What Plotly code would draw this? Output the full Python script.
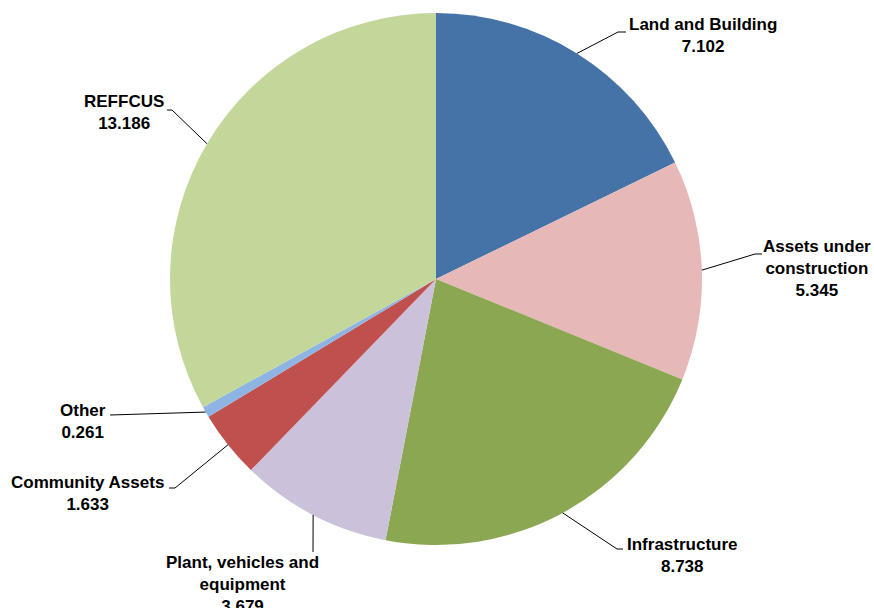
import math
import plotly.graph_objects as go

# Asset categories and values (clockwise from 12 o'clock)
categories = ["Land and Building", "Assets under construction", "Infrastructure",
              "Plant, vehicles and equipment", "Community Assets", "Other", "REFFCUS"]
values = [7.102, 5.345, 8.738, 3.679, 1.633, 0.261, 13.186]
label_texts = ["Land and Building", "Assets under<br>construction", "Infrastructure",
               "Plant, vehicles and<br>equipment", "Community Assets", "Other", "REFFCUS"]
colors = ["#4673A7", "#E6B8B7", "#8CA752", "#CCC1DA", "#C0504D", "#8DB4E2", "#C4D79B"]

W, H = 874, 608
CX, CY, R = 436, 279, 266  # pie centre and radius in pixels

# label centres and leader-line elbow / stub-end points (pixels)
label_pos = [(703, 35.5), (817, 268), (682, 555.5), (242, 584), (87, 493.5), (83, 421), (124, 113)]
elbows = [(618, 32), (755, 254), (617, 549), (313, 552), (175, 488), (110, 415), (172, 110)]
stub_ends = [(626, 32), (762, 254), (623, 549), (313, 552), (169, 488), (110, 415), (167, 110)]


def px(x, y):
    return x / W, 1 - y / H


fig = go.Figure(go.Pie(
    labels=categories,
    values=values,
    sort=False,
    direction="clockwise",
    rotation=0,
    textinfo="none",
    marker=dict(colors=colors, line=dict(width=0)),
    domain=dict(x=[(CX - R) / W, (CX + R) / W], y=[1 - (CY + R) / H, 1 - (CY - R) / H]),
    showlegend=False,
))

total = sum(values)
cum = 0.0
shapes = []
annotations = []
for i, v in enumerate(values):
    mid = (cum + v / 2) / total * 2 * math.pi
    cum += v
    ax = CX + R * math.sin(mid)
    ay = CY - R * math.cos(mid)
    ex, ey = elbows[i]
    sx, sy = stub_ends[i]
    p0, p1, p2 = px(ax, ay), px(ex, ey), px(sx, sy)
    path = f"M {p0[0]},{p0[1]} L {p1[0]},{p1[1]} L {p2[0]},{p2[1]}"
    shapes.append(dict(type="path", xref="paper", yref="paper", path=path,
                       line=dict(color="#000000", width=1)))
    lx, ly = px(*label_pos[i])
    annotations.append(dict(
        x=lx, y=ly, xref="paper", yref="paper", xanchor="center", yanchor="middle",
        text=f"<b>{label_texts[i]}<br>{v:.3f}</b>", showarrow=False, align="center",
        font=dict(family="Liberation Sans, Arial, sans-serif", size=17, color="#000000"),
    ))

fig.update_layout(
    width=W, height=H,
    margin=dict(l=0, r=0, t=0, b=0),
    paper_bgcolor="#FFFFFF",
    plot_bgcolor="#FFFFFF",
    shapes=shapes,
    annotations=annotations,
)

fig.write_html("out.html")
